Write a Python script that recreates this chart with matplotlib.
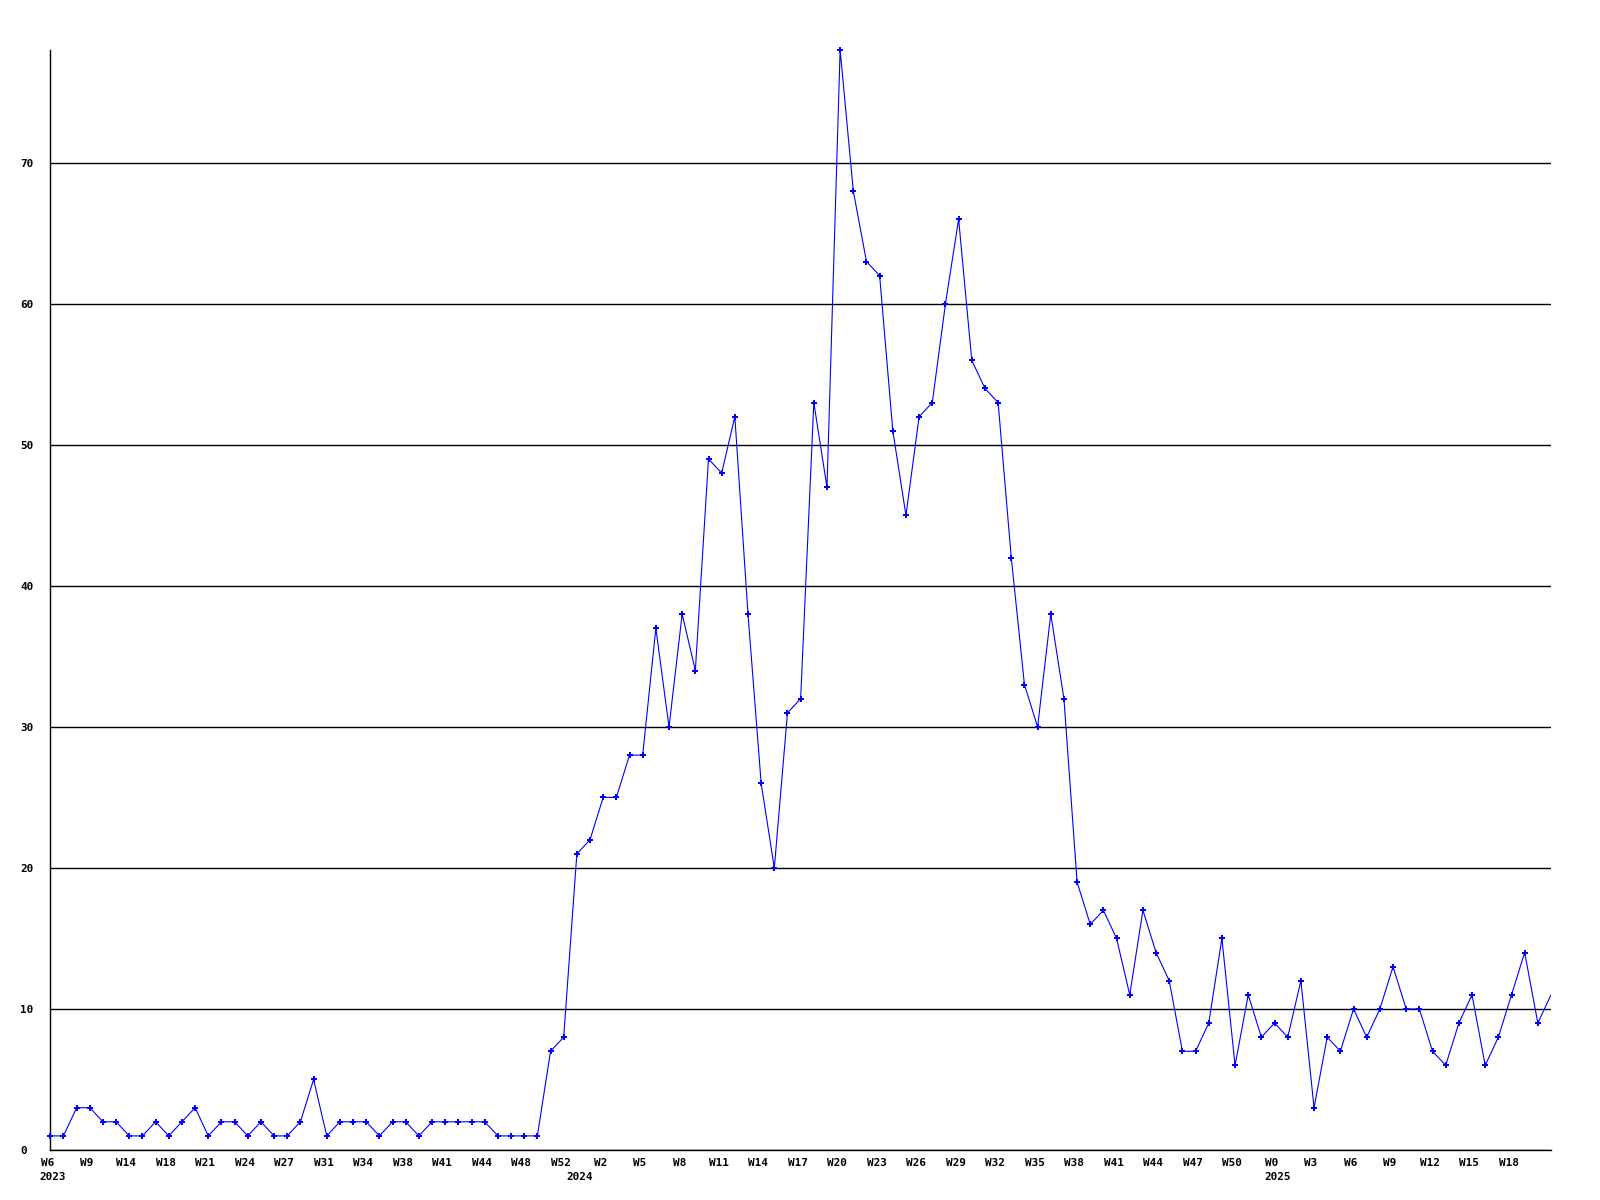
import matplotlib
matplotlib.use("Agg")
import matplotlib.pyplot as plt
import matplotlib.transforms as mtransforms
import numpy as np

# ---- data ----
values = [1, 1, 3, 3, 2, 2, 1, 1, 2, 1, 2, 3, 1, 2, 2, 1, 2, 1, 1, 2,
          5, 1, 2, 2, 2, 1, 2, 2, 1, 2, 2, 2, 2, 2, 1, 1, 1, 1, 7, 8,
          21, 22, 25, 25, 28, 28, 37, 30, 38, 34, 49, 48, 52, 38, 26, 20, 31, 32, 53, 47,
          78, 68, 63, 62, 51, 45, 52, 53, 60, 66, 56, 54, 53, 42, 33, 30, 38, 32, 19, 16,
          17, 15, 11, 17, 14, 12, 7, 7, 9, 15, 6, 11, 8, 9, 8, 12, 3, 8, 7, 10,
          8, 10, 13, 10, 10, 7, 6, 9, 11, 6, 8, 11, 14, 9, 11]

week_labels = ["W6", "W9", "W14", "W18", "W21", "W24", "W27", "W31", "W34", "W38",
               "W41", "W44", "W48", "W52",
               "W2", "W5", "W8", "W11", "W14", "W17", "W20", "W23", "W26", "W29",
               "W32", "W35", "W38", "W41", "W44", "W47", "W50",
               "W0", "W3", "W6", "W9", "W12", "W15", "W18"]
label_step = 3

years = ["2023", "2024", "2025"]
year_start_index = [0, 40, 93]

y_ticks = [0, 10, 20, 30, 40, 50, 60, 70]

# ---- figure ----
W, H = 1600, 1200
fig = plt.figure(figsize=(W / 100, H / 100), dpi=100)
left_px, right_px, top_px, bottom_px = 50.3, 1551, 50, 1150
ax = fig.add_axes([left_px / W, 1 - bottom_px / H,
                   (right_px - left_px) / W, (bottom_px - top_px) / H])

font = dict(family="DejaVu Sans Mono", weight="bold", size=7.9)

x = np.arange(len(values))
ax.plot(x, values, color="#0000ff", lw=0.8, zorder=3)
ax.plot(x[:-1], values[:-1], color="#0000ff", lw=0, marker="P", ms=4.0,
        mew=0, zorder=4, clip_on=False)

ax.set_xlim(0, len(values) - 1)
ax.set_ylim(0, max(values))

for s in ["top", "right"]:
    ax.spines[s].set_visible(False)
for s in ["left", "bottom"]:
    ax.spines[s].set_color("black")
    ax.spines[s].set_linewidth(1.0)

# horizontal grid
ax.set_yticks(y_ticks)
ax.set_yticklabels([str(v) for v in y_ticks], **font)
ax.yaxis.grid(True, color="black", lw=1.0)
ax.set_axisbelow(True)
ax.tick_params(axis="y", length=0, pad=(left_px - 20) * 0.72)
for t in ax.get_yticklabels():
    t.set_horizontalalignment("left")

# x tick labels
tick_pos = x[::label_step][:len(week_labels)]
ax.set_xticks(tick_pos)
ax.set_xticklabels(week_labels, **font)
ax.tick_params(axis="x", length=0, pad=5.5)
shift = mtransforms.ScaledTranslation(-3 / 100, 0, fig.dpi_scale_trans)
for t in ax.get_xticklabels():
    t.set_transform(t.get_transform() + shift)

# year labels
trans = mtransforms.blended_transform_factory(ax.transData, ax.transAxes)
yoff = mtransforms.ScaledTranslation(-10.5 / 100, -27 / 100, fig.dpi_scale_trans)
for yr, idx in zip(years, year_start_index):
    ax.text(x[idx], 0, yr, transform=trans + yoff, ha="left", va="center", **font)

fig.savefig("out.png", dpi=100, facecolor="white")
